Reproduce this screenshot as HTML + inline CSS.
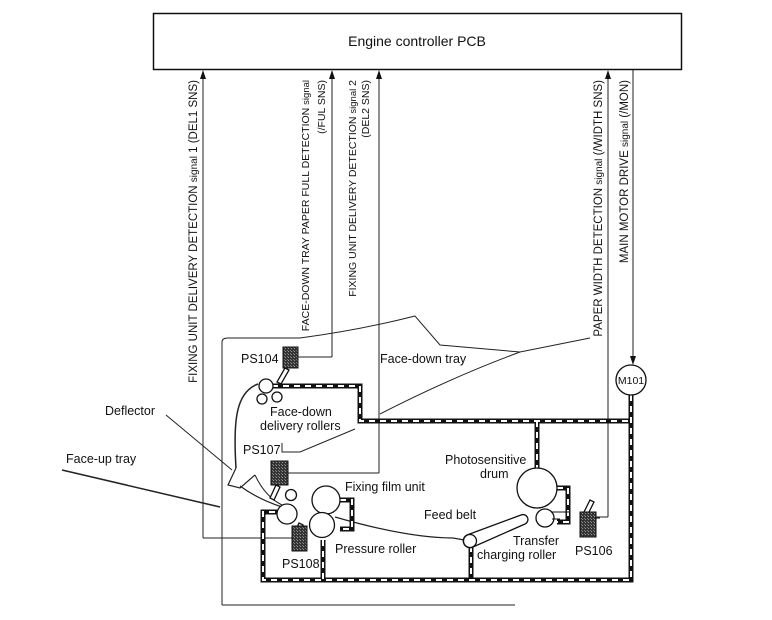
<!DOCTYPE html>
<html><head><meta charset="utf-8"><style>
html,body{margin:0;padding:0;background:#fff;}
svg{display:block;}
text{font-family:"Liberation Sans",Arial,sans-serif;fill:#111;}
</style></head><body>
<svg width="772" height="620" viewBox="0 0 772 620" xmlns="http://www.w3.org/2000/svg">
<defs>
<pattern id="dots" width="3" height="3" patternUnits="userSpaceOnUse"><rect width="3" height="3" fill="#333"/><rect x="0" y="0" width="1" height="1" fill="#999"/><rect x="2" y="2" width="1" height="1" fill="#777"/></pattern>
</defs>
<rect x="153.5" y="13.5" width="528" height="56" fill="#fff" stroke="#111" stroke-width="1.5"/>
<text x="417" y="46" font-size="14" text-anchor="middle">Engine controller PCB</text>

<g stroke="#222" stroke-width="1" fill="none">
<path d="M203,538 L203,72"/>
<path d="M203,538 L292,538"/>
<path d="M332,357 L332,72"/>
<path d="M332,357 L298,357"/>
<path d="M379,473 L379,72"/>
<path d="M379,473 L288,473"/>
<path d="M608,517 L608,72"/>
<path d="M608,517 L596,517"/>
<path d="M633,70 L633,360"/>
<path d="M222,605 L222,342 Q222,338 228,338 L300,338 Q360,330 415,316 L440,345 L520,352 L590,338"/>
<path d="M222,605 L515,605"/>
<path d="M380,414 Q450,378 520,352"/>
<path d="M62,470 L220,507" stroke-width="1.5"/>
<path d="M166,415 L232,470"/>
<path d="M282,443 L282,452 L300,452 L355,429"/>
<path d="M258,384 C236,392 233,420 236,468" stroke-width="1.5"/>
<path d="M236,468 L228,485 L240,488 L255,475" stroke-width="1.2" fill="#fff"/>
<path d="M240,486 C255,497 270,503 282,507" stroke-width="1.2"/>
<path d="M255,475 C262,490 272,500 282,505" stroke-width="1"/>
<path d="M335,517 C380,530 420,538 453,538 L470,541" stroke-width="1.2"/>
</g>
<g fill="#111">
<polygon points="200,79 203,70 206,79"/>
<polygon points="329,79 332,70 335,79"/>
<polygon points="376,79 379,70 382,79"/>
<polygon points="605,79 608,70 611,79"/>
<polygon points="630,356 633,365 636,356"/>
</g>

<g fill="none" stroke-linejoin="miter">
<g stroke="#111" stroke-width="5">
<path d="M272,386 L360,386 L360,421 L631,421"/>
<path d="M631,395 L631,580 L263,580 L263,512 L278,512"/>
<path d="M537,421 L537,468"/>
<path d="M323,540 L323,580"/>
<path d="M471,546 L471,580"/>
<path d="M340,500 L352,500 L352,529 L340,529"/>
<path d="M557,488 L568,488 L568,522 L557,522"/>
</g>
<g stroke="#fff" stroke-width="2" stroke-dasharray="6 5">
<path d="M272,386 L360,386 L360,421 L631,421"/>
<path d="M631,395 L631,580 L263,580 L263,512 L278,512"/>
<path d="M537,421 L537,468"/>
<path d="M323,540 L323,580"/>
<path d="M471,546 L471,580"/>
<path d="M340,500 L352,500 L352,529 L340,529"/>
<path d="M557,488 L568,488 L568,522 L557,522"/>
</g>
</g>

<g stroke="#111" stroke-width="1.3" fill="#fff">
<circle cx="266" cy="386" r="7"/>
<circle cx="262" cy="399" r="5"/>
<circle cx="277" cy="397" r="5"/>
<circle cx="291" cy="495" r="5.5"/>
<circle cx="287" cy="514" r="10"/>
<circle cx="326" cy="500" r="14"/>
<circle cx="322" cy="525" r="12.5"/>
<circle cx="537" cy="488" r="20"/>
<circle cx="545" cy="518" r="9"/>
<path d="M467,535 L521,515 A4,4 0 0 1 525,524 L473,547 A6,6 0 0 1 467,535 Z"/>
<circle cx="470" cy="541" r="6.5"/>
<circle cx="631" cy="380" r="15"/>
<path d="M285,368 L289,370 L281,384 L277,382 Z"/>
<path d="M276,485 L280,487 L274,500 L270,498 Z"/>
<path d="M303,525 L299,523 L293,536 L297,538 Z"/>
<path d="M584,512 L590,500 L594,502 L588,514 Z"/>
</g>
<path d="M552,512 L570,512 M552,519 L560,519 M590,518 L600,518" stroke="#111" stroke-width="1"/>
<g stroke="#111" stroke-width="1" fill="url(#dots)">
<rect x="283" y="347" width="15" height="21"/>
<rect x="271" y="461" width="17" height="24"/>
<rect x="292" y="526" width="15" height="25"/>
<rect x="580" y="512" width="16" height="25"/>
</g>

<g font-size="11.5">
<text transform="translate(197,80) rotate(-90)" text-anchor="end">FIXING UNIT DELIVERY DETECTION <tspan font-size="10">signal</tspan> 1 (DEL1 SNS)</text>
<text transform="translate(309,80) rotate(-90)" text-anchor="end" font-size="10.5">FACE-DOWN TRAY PAPER FULL DETECTION <tspan font-size="9.5">signal</tspan></text>
<text transform="translate(325,80) rotate(-90)" text-anchor="end" font-size="10.5">(/FUL SNS)</text>
<text transform="translate(356,80) rotate(-90)" text-anchor="end" font-size="10.5">FIXING UNIT DELIVERY DETECTION <tspan font-size="9.5">signal</tspan> 2</text>
<text transform="translate(369,80) rotate(-90)" text-anchor="end" font-size="10.5">(DEL2 SNS)</text>
<text transform="translate(602,80) rotate(-90)" text-anchor="end">PAPER WIDTH DETECTION <tspan font-size="10">signal</tspan> (/WIDTH SNS)</text>
<text transform="translate(628,80) rotate(-90)" text-anchor="end">MAIN MOTOR DRIVE <tspan font-size="10">signal</tspan> (/MON)</text>
</g>

<g font-size="12.5">
<text x="241" y="363">PS104</text>
<text x="270" y="416">Face-down</text>
<text x="260" y="430">delivery rollers</text>
<text x="243" y="454">PS107</text>
<text x="345" y="491">Fixing film unit</text>
<text x="335" y="553">Pressure roller</text>
<text x="282" y="568">PS108</text>
<text x="380" y="363">Face-down tray</text>
<text x="445" y="464">Photosensitive</text>
<text x="480" y="478">drum</text>
<text x="424" y="519">Feed belt</text>
<text x="513" y="545">Transfer</text>
<text x="477" y="559">charging roller</text>
<text x="575" y="555">PS106</text>
<text x="105" y="415">Deflector</text>
<text x="66" y="463">Face-up tray</text>
<text x="631" y="384" text-anchor="middle" font-size="10.5">M101</text>
</g>
</svg>
</body></html>
